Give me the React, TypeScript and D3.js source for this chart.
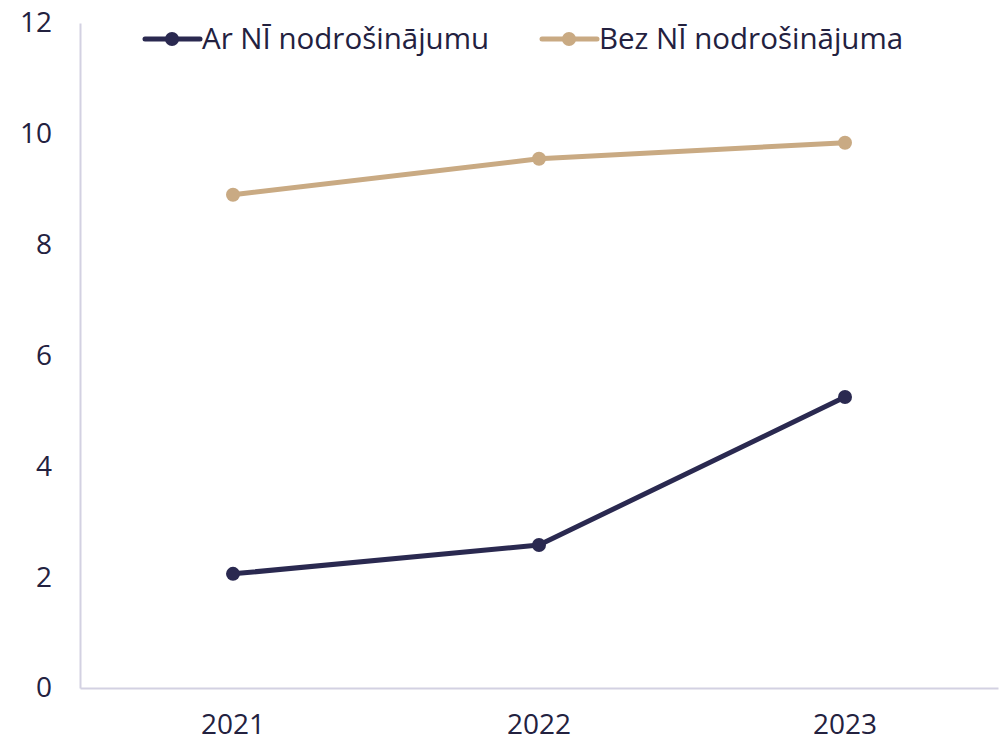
import React, { useEffect, useRef } from "react";
import * as d3 from "d3";

const years = ["2021", "2022", "2023"];
const withCollateral = [2.06, 2.58, 5.25];
const withoutCollateral = [8.9, 9.55, 9.84];
const seriesNames = ["Ar NĪ nodrošinājumu", "Bez NĪ nodrošinājuma"];
const seriesColors = ["#2a2950", "#c9aa83"];
const yTicks = [0, 2, 4, 6, 8, 10, 12];

const W = 1000;
const H = 743;

const App = () => {
  const ref = useRef<SVGSVGElement>(null);

  useEffect(() => {
    const svg = d3.select(ref.current);
    svg.selectAll("*").remove();

    const font = "'Open Sans', 'Noto Sans', sans-serif";
    const textColor = "#23213f";
    const axisColor = "#d3d1e2";
    const margin = { top: 23, right: 2, bottom: 55, left: 80 };

    const x = d3.scaleBand().domain(years).range([margin.left, W - margin.right]);
    const y = d3.scaleLinear().domain([0, 12]).range([H - margin.bottom, margin.top]);

    // axes
    const yAxis = svg.append("g").attr("transform", `translate(${margin.left},0)`)
      .call(d3.axisLeft(y).tickValues(yTicks).tickSize(0).tickPadding(28));
    yAxis.select(".domain").attr("stroke", axisColor).attr("stroke-width", 2);
    yAxis.selectAll("text").attr("fill", textColor).style("font-family", font).style("font-size", "28px");

    const xAxis = svg.append("g").attr("transform", `translate(0,${H - margin.bottom})`)
      .call(d3.axisBottom(x).tickSize(0).tickPadding(26));
    xAxis.select(".domain").attr("stroke", axisColor).attr("stroke-width", 2);
    xAxis.selectAll("text").attr("fill", textColor).style("font-family", font).style("font-size", "28px");

    const line = d3.line<number>()
      .x((_, i) => x(years[i])! + x.bandwidth() / 2)
      .y((d) => y(d));

    [withCollateral, withoutCollateral].forEach((vals, si) => {
      svg.append("path").datum(vals)
        .attr("fill", "none")
        .attr("stroke", seriesColors[si])
        .attr("stroke-width", 5)
        .attr("stroke-linejoin", "round")
        .attr("d", line);
      svg.append("g").selectAll("circle").data(vals).join("circle")
        .attr("cx", (_, i) => x(years[i])! + x.bandwidth() / 2)
        .attr("cy", (d) => y(d))
        .attr("r", 7)
        .attr("fill", seriesColors[si]);
    });

    // legend
    const legendX = [145, 542];
    seriesNames.forEach((name, i) => {
      const g = svg.append("g").attr("transform", `translate(${legendX[i]},39)`);
      g.append("line").attr("x1", 0).attr("x2", 55).attr("y1", 0).attr("y2", 0)
        .attr("stroke", seriesColors[i]).attr("stroke-width", 5).attr("stroke-linecap", "round");
      g.append("circle").attr("cx", 27).attr("cy", 0).attr("r", 7).attr("fill", seriesColors[i]);
      g.append("text").attr("x", 57).attr("y", 0).attr("dy", "0.35em")
        .attr("fill", textColor).style("font-family", font).style("font-size", "29.5px")
        .text(name);
    });
  }, []);

  return <svg ref={ref} width={W} height={H} style={{ position: "absolute", left: 0, top: 0 }}></svg>;
};

export default App;
